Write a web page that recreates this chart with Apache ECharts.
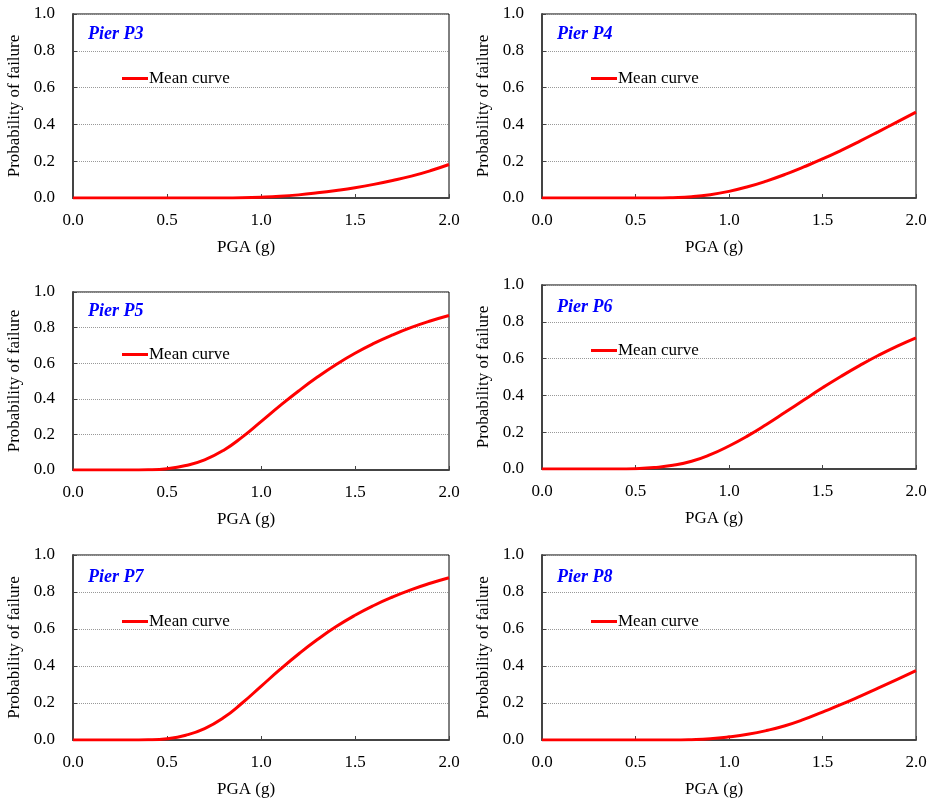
<!DOCTYPE html>
<html>
<head>
<meta charset="utf-8">
<script src="https://cdn.jsdelivr.net/npm/echarts@6/dist/echarts.min.js"></script>
<style>
  html, body { margin: 0; padding: 0; background: #fff; }
  #chart { width: 934px; height: 802px; }
</style>
</head>
<body>
<div id="chart"></div>
<script>
// PGA (g) sample points
const pga = [0.0, 0.1, 0.2, 0.3, 0.4, 0.5, 0.6, 0.7, 0.8, 0.9, 1.0, 1.1, 1.2, 1.3, 1.4, 1.5, 1.6, 1.7, 1.8, 1.9, 2.0]

// mean fragility curves, probability of failure
const pierP3 = [0, 0, 0, 0, 0, 0, 0, 0, 0, 0.001, 0.004, 0.009, 0.017, 0.028, 0.041, 0.056, 0.074, 0.095, 0.119, 0.148, 0.182]
const pierP4 = [0, 0, 0, 0, 0, 0, 0, 0.002, 0.007, 0.018, 0.036, 0.061, 0.092, 0.128, 0.169, 0.212, 0.259, 0.309, 0.361, 0.414, 0.467]
const pierP5 = [0, 0, 0, 0, 0.001, 0.007, 0.025, 0.057, 0.11, 0.185, 0.272, 0.36, 0.444, 0.522, 0.593, 0.656, 0.711, 0.759, 0.801, 0.837, 0.868]
const pierP6 = [0, 0, 0, 0, 0, 0.002, 0.008, 0.02, 0.042, 0.078, 0.125, 0.18, 0.242, 0.308, 0.375, 0.441, 0.504, 0.563, 0.618, 0.668, 0.713]
const pierP7 = [0, 0, 0, 0, 0.001, 0.007, 0.026, 0.062, 0.12, 0.2, 0.29, 0.38, 0.465, 0.543, 0.613, 0.674, 0.727, 0.773, 0.813, 0.847, 0.877]
const pierP8 = [0, 0, 0, 0, 0, 0, 0, 0, 0.002, 0.007, 0.017, 0.031, 0.051, 0.077, 0.111, 0.151, 0.192, 0.236, 0.282, 0.328, 0.375]

const panelNames = ['Pier P3', 'Pier P4', 'Pier P5', 'Pier P6', 'Pier P7', 'Pier P8']
const panelData = [pierP3, pierP4, pierP5, pierP6, pierP7, pierP8]
const xTicks = { min: 0, max: 2, interval: 0.5 }
const yTicks = { min: 0, max: 1, interval: 0.2 }

// layout: plot box, title and legend positions for every panel
const boxes = [
  { left: 73, top: 14, width: 376, height: 184, titleX: 88, titleY: 25, legX: 122, legY: 70 },
  { left: 542, top: 14, width: 374, height: 184, titleX: 557, titleY: 25, legX: 591, legY: 70 },
  { left: 73, top: 292, width: 376, height: 178, titleX: 88, titleY: 302, legX: 122, legY: 346 },
  { left: 542, top: 285, width: 374, height: 184, titleX: 557, titleY: 298, legX: 591, legY: 342 },
  { left: 73, top: 555, width: 376, height: 185, titleX: 88, titleY: 568, legX: 122, legY: 613 },
  { left: 542, top: 555, width: 374, height: 185, titleX: 557, titleY: 568, legX: 591, legY: 613 }
]

const serif = 'Liberation Serif, Times New Roman, serif'
const chart = echarts.init(document.getElementById('chart'))

const option = {
  animation: false,
  title: boxes.map((b, i) => ({
    text: panelNames[i],
    left: b.titleX,
    top: b.titleY,
    padding: 0,
    textStyle: { fontFamily: serif, fontSize: 18, fontWeight: 'bold', fontStyle: 'italic', color: '#0000ff' }
  })),
  legend: boxes.map((b) => ({
    data: ['Mean curve'],
    left: b.legX,
    top: b.legY,
    padding: 0,
    icon: 'rect',
    itemWidth: 26,
    itemHeight: 3,
    textStyle: { fontFamily: serif, fontSize: 17, color: '#000', padding: [0, 0, 0, -4] }
  })),
  grid: boxes.map((b) => ({
    left: b.left,
    top: b.top,
    width: b.width,
    height: b.height,
    show: true,
    borderColor: '#000',
    borderWidth: 1,
    containLabel: false
  })),
  xAxis: boxes.map((b, i) => ({
    type: 'value',
    gridIndex: i,
    min: xTicks.min,
    max: xTicks.max,
    interval: xTicks.interval,
    name: 'PGA (g)',
    nameLocation: 'middle',
    nameGap: 41,
    nameTextStyle: { fontFamily: serif, fontSize: 17, color: '#000', padding: [0, 30, 0, 0] },
    axisLine: { lineStyle: { color: '#444', width: 2 } },
    axisTick: { inside: true, length: 4, lineStyle: { color: '#444' } },
    axisLabel: { fontFamily: serif, fontSize: 17, color: '#000', margin: 14, formatter: (v) => v.toFixed(1) },
    splitLine: { show: false }
  })),
  yAxis: boxes.map((b, i) => ({
    type: 'value',
    gridIndex: i,
    min: yTicks.min,
    max: yTicks.max,
    interval: yTicks.interval,
    name: 'Probability of failure',
    nameLocation: 'middle',
    nameGap: 50,
    nameTextStyle: { fontFamily: serif, fontSize: 17, color: '#000' },
    axisLine: { show: true, lineStyle: { color: '#444', width: 2 } },
    axisTick: { show: true, inside: true, length: 4, lineStyle: { color: '#444' } },
    axisLabel: { fontFamily: serif, fontSize: 17, color: '#000', margin: 18, formatter: (v) => v.toFixed(1) },
    splitLine: { show: true, lineStyle: { color: '#999', type: 'dotted', width: 1 } }
  })),
  series: panelData.map((vals, i) => ({
    name: 'Mean curve',
    type: 'line',
    xAxisIndex: i,
    yAxisIndex: i,
    data: pga.map((x, k) => [x, vals[k]]),
    smooth: true,
    showSymbol: false,
    lineStyle: { color: '#ff0000', width: 3 },
    itemStyle: { color: '#ff0000' }
  }))
}

chart.setOption(option)
</script>
</body>
</html>
